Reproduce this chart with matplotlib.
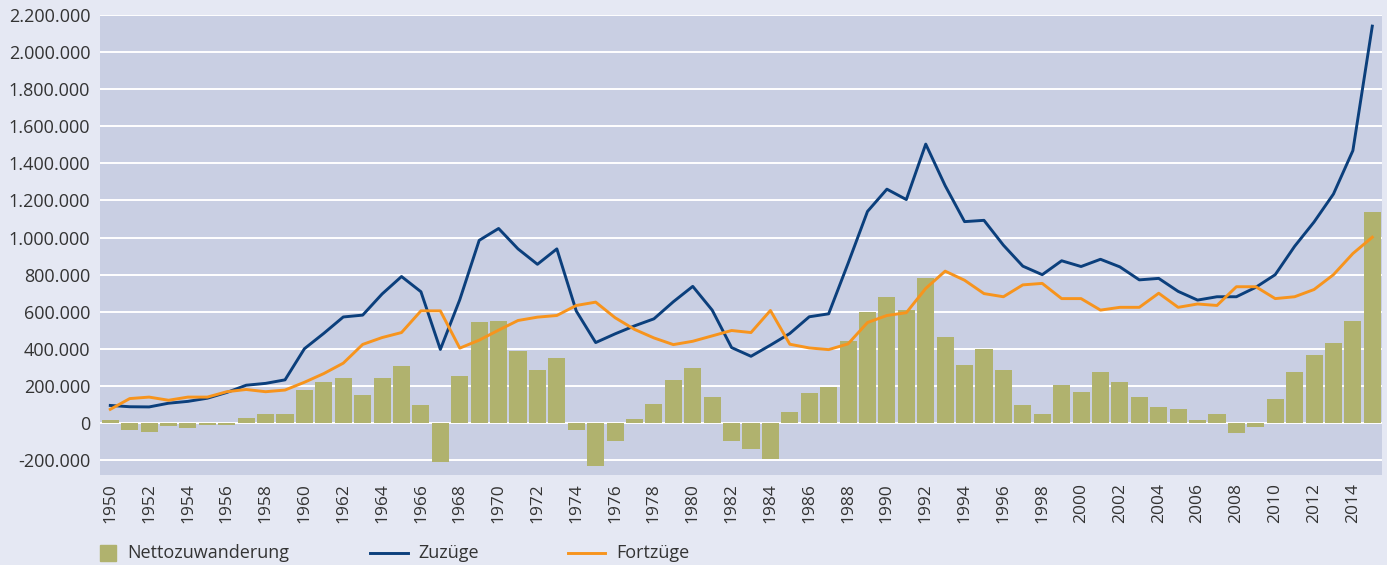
import numpy as np
import matplotlib.pyplot as plt
from matplotlib.patches import Rectangle
from matplotlib.lines import Line2D
from matplotlib.ticker import FuncFormatter

plt.rcParams['font.family'] = ['Open Sans', 'DejaVu Sans']

years = np.arange(1950, 2016)

netto = [19000, -37000, -48000, -16000, -27000, -10000, -10000, 25000, 47000, 47000,
         177000, 220000, 241000, 150000, 241000, 305000, 95000, -210000, 252000, 544000,
         550000, 387000, 285000, 350000, -40000, -232000, -94000, 20000, 101000, 231000,
         295000, 139000, -94000, -142000, -196000, 58000, 160000, 193000, 441000, 598000,
         679000, 608000, 780000, 463000, 311000, 397000, 284000, 95000, 47000, 204000,
         165000, 278000, 220000, 138000, 84000, 74000, 19000, 47000, -54000, -21000,
         128000, 278000, 366000, 430000, 549000, 1138000]

zuzuege = [95000, 88000, 87000, 107000, 117000, 134000, 165000, 204000, 214000, 233000,
           401000, 484000, 572000, 582000, 696000, 790000, 708000, 397000, 665000, 985000,
           1049000, 939000, 856000, 939000, 604000, 434000, 481000, 524000, 562000, 654000,
           737000, 609000, 407000, 360000, 420000, 483000, 573000, 589000, 861000, 1141000,
           1261000, 1205000, 1504000, 1280000, 1086000, 1093000, 959000, 846000, 800000, 875000,
           844000, 883000, 842000, 772000, 780000, 710000, 663000, 681000, 681000, 732000,
           800000, 953000, 1084000, 1235000, 1469000, 2140000]

fortzuege = [74000, 132000, 140000, 123000, 140000, 140000, 169000, 181000, 169000, 178000,
             220000, 267000, 323000, 424000, 461000, 488000, 605000, 605000, 404000, 447000,
             501000, 553000, 571000, 580000, 634000, 652000, 568000, 505000, 459000, 423000,
             441000, 470000, 499000, 488000, 607000, 425000, 405000, 396000, 427000, 542000,
             580000, 595000, 726000, 819000, 770000, 698000, 681000, 745000, 753000, 671000,
             671000, 609000, 624000, 624000, 700000, 624000, 642000, 634000, 735000, 735000,
             671000, 681000, 720000, 800000, 914000, 1002000]

labels = ['Nettozuwanderung', 'Zuzüge', 'Fortzüge']

bg = '#e5e8f3'
plot_bg = '#c9cfe3'
bar_col = '#b0b26e'
blue = '#0b3f7c'
orange = '#f7941d'
txt = '#333333'

fig = plt.figure(figsize=(13.87, 5.65), dpi=100, facecolor=bg)
ax = fig.add_axes([100 / 1387, 1 - 475 / 565, 1282 / 1387, 460 / 565])
ax.set_facecolor(plot_bg)

ax.bar(years, netto, width=0.88, color=bar_col, zorder=2)
ax.plot(years, zuzuege, color=blue, lw=2.1, zorder=3)
ax.plot(years, fortzuege, color=orange, lw=2.1, zorder=3)

ax.set_xlim(1949.47, 2015.5)
ax.set_ylim(-280000, 2200000)
ax.set_yticks(np.arange(-200000, 2200001, 200000))
ax.yaxis.set_major_formatter(FuncFormatter(lambda v, p: f'{int(v):,}'.replace(',', '.').replace('-', '-')))
ax.set_xticks(np.arange(1950, 2015, 2))
ax.tick_params(axis='x', labelrotation=90, length=0, pad=6, labelsize=12.5, labelcolor=txt)
ax.tick_params(axis='y', length=0, pad=7, labelsize=13, labelcolor=txt)
ax.grid(axis='y', color='white', lw=1.4, zorder=1)
ax.set_axisbelow(True)
for s in ax.spines.values():
    s.set_visible(False)

# legend drawn in figure pixels
fig.add_artist(Rectangle((100 / 1387, 1 - 561 / 565), 16 / 1387, 16 / 565,
                         transform=fig.transFigure, color=bar_col))
fig.text(127 / 1387, 1 - 553 / 565, labels[0], fontsize=13, color=txt, va='center')
fig.add_artist(Line2D([370 / 1387, 408 / 1387], [1 - 553 / 565] * 2,
                      transform=fig.transFigure, color=blue, lw=2.1))
fig.text(418 / 1387, 1 - 553 / 565, labels[1], fontsize=13, color=txt, va='center')
fig.add_artist(Line2D([568 / 1387, 605 / 1387], [1 - 553 / 565] * 2,
                      transform=fig.transFigure, color=orange, lw=2.1))
fig.text(616 / 1387, 1 - 553 / 565, labels[2], fontsize=13, color=txt, va='center')

fig.savefig('out.png', dpi=100, facecolor=bg)
